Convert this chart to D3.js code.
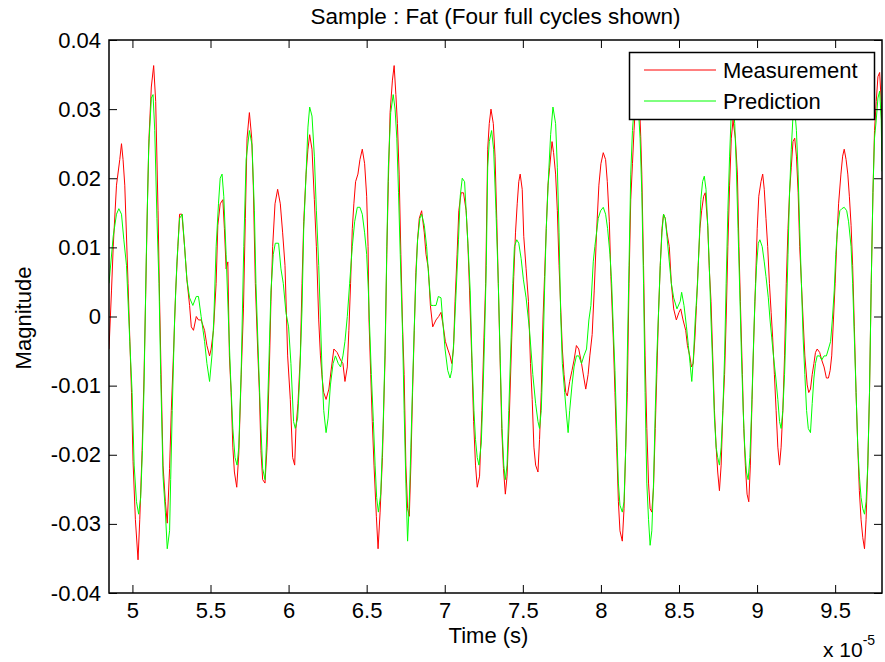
<!DOCTYPE html>
<html>
<head>
<meta charset="utf-8">
<script src="https://cdn.jsdelivr.net/npm/d3@7"></script>
<style>
  body { margin: 0; background: #fff; }
  text { font-family: "Liberation Sans", Arial, sans-serif; fill: #000; }
</style>
</head>
<body>
<script>
// time in units of 1e-5 s, magnitude
const measurement = [
  [4.850,-0.0047],[4.866,0.0037],[4.877,0.0101],[4.898,0.0190],[4.919,0.0227],[4.930,0.0250],[4.940,0.0227],[4.951,0.0190],[4.972,0.0048],[4.983,-0.0031],[4.994,-0.0110],[5.004,-0.0210],[5.019,-0.0294],[5.036,-0.0352],[5.047,-0.0294],[5.062,-0.0194],[5.074,-0.0089],[5.085,0.0032],[5.096,0.0163],[5.106,0.0258],[5.121,0.0332],[5.136,0.0363],[5.149,0.0311],[5.164,0.0153],[5.174,0.0022],[5.185,-0.0099],[5.196,-0.0215],[5.211,-0.0268],[5.223,-0.0299],[5.238,-0.0220],[5.249,-0.0136],[5.264,-0.0047],[5.277,0.0037],[5.291,0.0101],[5.302,0.0148],[5.317,0.0148],[5.334,0.0101],[5.349,0.0053],[5.366,0.0016],[5.377,-0.0015],[5.391,-0.0020],[5.409,0.0000],[5.423,-0.0005],[5.440,-0.0005],[5.462,-0.0020],[5.477,-0.0042],[5.494,-0.0057],[5.504,-0.0047],[5.519,-0.0020],[5.536,0.0048],[5.547,0.0132],[5.562,0.0163],[5.579,0.0169],[5.589,0.0127],[5.600,0.0069],[5.611,0.0079],[5.621,-0.0057],[5.632,-0.0110],[5.643,-0.0189],[5.653,-0.0225],[5.668,-0.0247],[5.681,-0.0199],[5.696,-0.0089],[5.711,0.0011],[5.723,0.0142],[5.734,0.0258],[5.749,0.0295],[5.764,0.0258],[5.774,0.0190],[5.787,0.0048],[5.802,-0.0047],[5.813,-0.0110],[5.823,-0.0194],[5.834,-0.0236],[5.849,-0.0241],[5.862,-0.0189],[5.877,-0.0073],[5.887,0.0022],[5.898,0.0101],[5.913,0.0163],[5.930,0.0184],[5.947,0.0163],[5.962,0.0121],[5.977,0.0074],[5.994,-0.0057],[6.011,-0.0120],[6.026,-0.0204],[6.039,-0.0215],[6.047,-0.0162],[6.060,-0.0126],[6.075,-0.0057],[6.086,0.0048],[6.097,0.0137],[6.112,0.0206],[6.124,0.0242],[6.135,0.0263],[6.150,0.0242],[6.165,0.0169],[6.178,0.0101],[6.193,-0.0005],[6.204,-0.0057],[6.215,-0.0089],[6.225,-0.0110],[6.240,-0.0120],[6.258,-0.0105],[6.275,-0.0073],[6.290,-0.0047],[6.311,-0.0052],[6.333,-0.0063],[6.348,-0.0068],[6.361,-0.0094],[6.376,-0.0073],[6.386,-0.0020],[6.397,0.0048],[6.408,0.0127],[6.418,0.0163],[6.429,0.0195],[6.444,0.0206],[6.457,0.0227],[6.472,0.0242],[6.487,0.0221],[6.500,0.0174],[6.509,0.0101],[6.515,-0.0005],[6.526,-0.0084],[6.536,-0.0152],[6.547,-0.0215],[6.562,-0.0289],[6.573,-0.0336],[6.586,-0.0283],[6.601,-0.0204],[6.618,-0.0057],[6.629,0.0090],[6.639,0.0195],[6.650,0.0295],[6.665,0.0342],[6.676,0.0363],[6.687,0.0321],[6.697,0.0279],[6.708,0.0206],[6.719,0.0090],[6.730,-0.0015],[6.740,-0.0084],[6.751,-0.0215],[6.762,-0.0278],[6.773,-0.0289],[6.783,-0.0215],[6.794,-0.0110],[6.805,-0.0020],[6.815,0.0064],[6.826,0.0111],[6.837,0.0142],[6.852,0.0153],[6.869,0.0121],[6.880,0.0090],[6.895,0.0069],[6.908,0.0016],[6.923,-0.0015],[6.944,-0.0005],[6.961,0.0000],[6.976,0.0006],[6.991,-0.0015],[7.004,-0.0036],[7.019,-0.0047],[7.034,-0.0057],[7.045,-0.0068],[7.056,-0.0047],[7.066,0.0022],[7.079,0.0090],[7.090,0.0153],[7.105,0.0179],[7.120,0.0179],[7.137,0.0153],[7.148,0.0106],[7.159,0.0037],[7.174,-0.0068],[7.185,-0.0152],[7.197,-0.0215],[7.208,-0.0247],[7.223,-0.0231],[7.238,-0.0136],[7.251,-0.0031],[7.262,0.0048],[7.275,0.0242],[7.285,0.0279],[7.296,0.0300],[7.311,0.0279],[7.322,0.0232],[7.333,0.0142],[7.343,0.0048],[7.354,-0.0057],[7.365,-0.0162],[7.376,-0.0220],[7.388,-0.0257],[7.399,-0.0231],[7.414,-0.0141],[7.429,-0.0031],[7.442,0.0058],[7.453,0.0121],[7.464,0.0163],[7.474,0.0195],[7.483,0.0206],[7.496,0.0184],[7.506,0.0116],[7.521,0.0069],[7.536,0.0022],[7.549,-0.0068],[7.560,-0.0120],[7.571,-0.0189],[7.582,-0.0215],[7.597,-0.0225],[7.607,-0.0178],[7.618,-0.0110],[7.629,-0.0005],[7.639,0.0058],[7.650,0.0127],[7.661,0.0190],[7.672,0.0216],[7.687,0.0253],[7.697,0.0237],[7.710,0.0206],[7.721,0.0153],[7.732,0.0074],[7.742,0.0016],[7.753,-0.0047],[7.764,-0.0084],[7.775,-0.0110],[7.785,-0.0115],[7.800,-0.0094],[7.815,-0.0078],[7.828,-0.0063],[7.843,-0.0042],[7.858,-0.0047],[7.876,-0.0068],[7.891,-0.0089],[7.903,-0.0105],[7.918,-0.0084],[7.929,-0.0057],[7.944,-0.0026],[7.957,0.0037],[7.972,0.0121],[7.987,0.0190],[8.000,0.0221],[8.015,0.0237],[8.030,0.0227],[8.041,0.0195],[8.054,0.0137],[8.064,0.0058],[8.079,-0.0031],[8.090,-0.0110],[8.101,-0.0189],[8.112,-0.0268],[8.122,-0.0310],[8.137,-0.0325],[8.148,-0.0278],[8.159,-0.0189],[8.169,-0.0110],[8.180,0.0048],[8.191,0.0169],[8.202,0.0221],[8.212,0.0269],[8.223,0.0311],[8.234,0.0335],[8.245,0.0320],[8.255,0.0260],[8.262,0.0206],[8.273,0.0074],[8.283,-0.0057],[8.294,-0.0162],[8.305,-0.0241],[8.315,-0.0278],[8.326,-0.0283],[8.337,-0.0247],[8.348,-0.0162],[8.358,-0.0084],[8.369,0.0006],[8.380,0.0074],[8.391,0.0127],[8.401,0.0148],[8.412,0.0142],[8.423,0.0121],[8.438,0.0101],[8.451,0.0048],[8.466,0.0011],[8.483,-0.0005],[8.500,0.0006],[8.511,0.0011],[8.526,-0.0005],[8.543,-0.0020],[8.554,-0.0042],[8.569,-0.0057],[8.580,-0.0073],[8.591,-0.0068],[8.602,-0.0031],[8.612,0.0016],[8.623,0.0074],[8.634,0.0127],[8.645,0.0153],[8.658,0.0174],[8.668,0.0179],[8.684,0.0132],[8.694,0.0069],[8.705,0.0022],[8.716,-0.0057],[8.727,-0.0136],[8.738,-0.0189],[8.748,-0.0225],[8.759,-0.0252],[8.770,-0.0215],[8.781,-0.0136],[8.792,-0.0084],[8.802,-0.0005],[8.813,0.0101],[8.824,0.0190],[8.835,0.0258],[8.846,0.0284],[8.861,0.0258],[8.874,0.0206],[8.884,0.0101],[8.893,0.0022],[8.906,-0.0084],[8.915,-0.0162],[8.925,-0.0215],[8.936,-0.0257],[8.947,-0.0268],[8.957,-0.0215],[8.968,-0.0120],[8.979,-0.0031],[8.990,0.0048],[9.001,0.0127],[9.011,0.0174],[9.025,0.0195],[9.036,0.0206],[9.046,0.0184],[9.057,0.0142],[9.068,0.0101],[9.079,0.0048],[9.090,0.0006],[9.100,-0.0031],[9.111,-0.0084],[9.122,-0.0136],[9.133,-0.0189],[9.144,-0.0215],[9.154,-0.0189],[9.165,-0.0136],[9.176,-0.0057],[9.187,0.0048],[9.198,0.0127],[9.208,0.0179],[9.219,0.0216],[9.230,0.0253],[9.241,0.0258],[9.252,0.0232],[9.263,0.0179],[9.273,0.0101],[9.284,0.0048],[9.295,-0.0005],[9.306,-0.0057],[9.321,-0.0099],[9.331,-0.0110],[9.342,-0.0105],[9.353,-0.0084],[9.364,-0.0068],[9.374,-0.0052],[9.385,-0.0047],[9.401,-0.0052],[9.414,-0.0063],[9.429,-0.0073],[9.444,-0.0089],[9.457,-0.0089],[9.468,-0.0078],[9.478,-0.0057],[9.489,-0.0005],[9.500,0.0048],[9.511,0.0111],[9.522,0.0163],[9.537,0.0206],[9.548,0.0232],[9.558,0.0242],[9.570,0.0227],[9.581,0.0206],[9.591,0.0174],[9.602,0.0132],[9.612,0.0074],[9.623,-0.0015],[9.634,-0.0110],[9.645,-0.0189],[9.655,-0.0252],[9.666,-0.0294],[9.677,-0.0320],[9.688,-0.0336],[9.698,-0.0294],[9.709,-0.0215],[9.720,-0.0110],[9.731,0.0048],[9.742,0.0179],[9.752,0.0269],[9.763,0.0311],[9.774,0.0347],[9.785,0.0353],[9.795,0.0311],[9.800,0.0240]
];

const prediction = [
  [4.850,0.0048],[4.877,0.0116],[4.898,0.0148],[4.913,0.0156],[4.930,0.0148],[4.945,0.0111],[4.962,0.0074],[4.983,-0.0036],[4.998,-0.0110],[5.011,-0.0215],[5.026,-0.0268],[5.040,-0.0286],[5.053,-0.0262],[5.064,-0.0194],[5.074,-0.0105],[5.089,0.0090],[5.104,0.0242],[5.121,0.0316],[5.132,0.0321],[5.143,0.0269],[5.157,0.0142],[5.170,0.0048],[5.181,-0.0084],[5.196,-0.0231],[5.211,-0.0283],[5.223,-0.0336],[5.238,-0.0310],[5.245,-0.0236],[5.255,-0.0136],[5.270,-0.0005],[5.285,0.0079],[5.302,0.0142],[5.319,0.0148],[5.334,0.0101],[5.349,0.0053],[5.366,0.0027],[5.387,0.0016],[5.409,0.0029],[5.423,0.0029],[5.440,0.0000],[5.462,-0.0036],[5.477,-0.0068],[5.494,-0.0094],[5.509,-0.0057],[5.521,-0.0005],[5.536,0.0101],[5.551,0.0163],[5.562,0.0200],[5.574,0.0206],[5.585,0.0174],[5.600,0.0090],[5.615,-0.0005],[5.628,-0.0084],[5.643,-0.0162],[5.657,-0.0204],[5.670,-0.0215],[5.681,-0.0189],[5.696,-0.0084],[5.713,0.0101],[5.728,0.0227],[5.749,0.0269],[5.766,0.0248],[5.781,0.0153],[5.791,0.0048],[5.809,-0.0073],[5.823,-0.0162],[5.834,-0.0220],[5.849,-0.0236],[5.860,-0.0173],[5.877,-0.0042],[5.887,0.0037],[5.902,0.0090],[5.915,0.0106],[5.936,0.0106],[5.951,0.0069],[5.966,0.0048],[5.983,0.0006],[6.000,-0.0015],[6.015,-0.0068],[6.032,-0.0152],[6.043,-0.0162],[6.058,-0.0147],[6.071,-0.0089],[6.086,0.0011],[6.097,0.0127],[6.112,0.0206],[6.124,0.0274],[6.135,0.0303],[6.150,0.0290],[6.165,0.0232],[6.178,0.0153],[6.193,0.0074],[6.204,-0.0005],[6.215,-0.0084],[6.225,-0.0136],[6.240,-0.0168],[6.253,-0.0147],[6.268,-0.0099],[6.285,-0.0068],[6.300,-0.0057],[6.318,-0.0068],[6.333,-0.0073],[6.348,-0.0057],[6.361,-0.0036],[6.376,0.0000],[6.391,0.0048],[6.408,0.0101],[6.423,0.0137],[6.440,0.0158],[6.457,0.0158],[6.472,0.0148],[6.487,0.0121],[6.500,0.0090],[6.511,0.0037],[6.519,-0.0015],[6.530,-0.0084],[6.543,-0.0152],[6.554,-0.0215],[6.564,-0.0262],[6.575,-0.0283],[6.590,-0.0257],[6.605,-0.0162],[6.618,-0.0047],[6.629,0.0101],[6.639,0.0216],[6.654,0.0295],[6.670,0.0321],[6.682,0.0300],[6.693,0.0258],[6.704,0.0179],[6.715,0.0090],[6.730,-0.0026],[6.740,-0.0136],[6.751,-0.0241],[6.762,-0.0325],[6.773,-0.0268],[6.783,-0.0189],[6.794,-0.0099],[6.805,-0.0015],[6.815,0.0053],[6.826,0.0111],[6.841,0.0142],[6.852,0.0148],[6.869,0.0132],[6.884,0.0101],[6.897,0.0058],[6.912,0.0016],[6.927,0.0016],[6.944,0.0016],[6.959,0.0029],[6.976,0.0027],[6.987,-0.0005],[7.002,-0.0047],[7.019,-0.0078],[7.034,-0.0089],[7.045,-0.0078],[7.058,-0.0036],[7.073,0.0037],[7.088,0.0111],[7.099,0.0174],[7.112,0.0200],[7.127,0.0195],[7.137,0.0153],[7.152,0.0090],[7.163,0.0037],[7.174,-0.0057],[7.187,-0.0136],[7.197,-0.0178],[7.208,-0.0204],[7.219,-0.0215],[7.234,-0.0183],[7.245,-0.0110],[7.255,-0.0031],[7.266,0.0074],[7.275,0.0216],[7.285,0.0253],[7.300,0.0269],[7.313,0.0242],[7.328,0.0153],[7.343,0.0048],[7.356,-0.0068],[7.367,-0.0162],[7.378,-0.0215],[7.388,-0.0236],[7.399,-0.0215],[7.410,-0.0136],[7.425,-0.0031],[7.436,0.0048],[7.446,0.0101],[7.461,0.0111],[7.474,0.0106],[7.489,0.0084],[7.504,0.0053],[7.521,0.0027],[7.543,-0.0020],[7.564,-0.0084],[7.582,-0.0126],[7.597,-0.0152],[7.607,-0.0162],[7.618,-0.0136],[7.629,-0.0057],[7.639,0.0037],[7.650,0.0127],[7.665,0.0206],[7.678,0.0263],[7.693,0.0303],[7.710,0.0279],[7.721,0.0216],[7.732,0.0121],[7.742,0.0006],[7.753,-0.0068],[7.768,-0.0110],[7.779,-0.0141],[7.790,-0.0168],[7.800,-0.0136],[7.815,-0.0099],[7.828,-0.0073],[7.843,-0.0057],[7.858,-0.0057],[7.876,-0.0068],[7.891,-0.0057],[7.908,-0.0047],[7.923,-0.0005],[7.936,0.0016],[7.951,0.0079],[7.961,0.0101],[7.972,0.0121],[7.983,0.0142],[7.998,0.0153],[8.015,0.0158],[8.030,0.0148],[8.043,0.0127],[8.058,0.0090],[8.069,0.0048],[8.079,-0.0015],[8.090,-0.0078],[8.101,-0.0162],[8.112,-0.0241],[8.122,-0.0273],[8.137,-0.0283],[8.148,-0.0268],[8.159,-0.0189],[8.169,-0.0057],[8.180,0.0074],[8.191,0.0206],[8.202,0.0269],[8.212,0.0300],[8.223,0.0316],[8.240,0.0300],[8.251,0.0258],[8.262,0.0179],[8.273,0.0048],[8.283,-0.0110],[8.294,-0.0241],[8.305,-0.0294],[8.315,-0.0331],[8.326,-0.0310],[8.337,-0.0241],[8.348,-0.0136],[8.358,-0.0057],[8.369,0.0006],[8.380,0.0074],[8.391,0.0121],[8.401,0.0148],[8.412,0.0142],[8.423,0.0116],[8.438,0.0079],[8.451,0.0048],[8.466,0.0027],[8.487,0.0011],[8.508,0.0022],[8.517,0.0035],[8.532,0.0016],[8.548,-0.0015],[8.560,-0.0042],[8.571,-0.0068],[8.582,-0.0094],[8.593,-0.0057],[8.604,-0.0005],[8.619,0.0048],[8.630,0.0111],[8.640,0.0169],[8.651,0.0195],[8.662,0.0203],[8.673,0.0184],[8.684,0.0132],[8.694,0.0074],[8.705,-0.0005],[8.716,-0.0073],[8.727,-0.0147],[8.738,-0.0189],[8.748,-0.0204],[8.759,-0.0215],[8.770,-0.0189],[8.781,-0.0136],[8.792,-0.0057],[8.802,0.0048],[8.813,0.0153],[8.824,0.0232],[8.835,0.0295],[8.846,0.0310],[8.857,0.0279],[8.867,0.0216],[8.878,0.0127],[8.889,0.0037],[8.900,-0.0057],[8.911,-0.0136],[8.921,-0.0189],[8.932,-0.0225],[8.943,-0.0236],[8.954,-0.0204],[8.965,-0.0136],[8.975,-0.0057],[8.986,0.0022],[8.997,0.0074],[9.008,0.0106],[9.018,0.0111],[9.033,0.0101],[9.046,0.0079],[9.057,0.0058],[9.072,0.0027],[9.083,-0.0005],[9.094,-0.0031],[9.105,-0.0057],[9.120,-0.0089],[9.133,-0.0120],[9.144,-0.0152],[9.154,-0.0162],[9.165,-0.0136],[9.176,-0.0084],[9.187,-0.0005],[9.198,0.0090],[9.208,0.0179],[9.219,0.0242],[9.230,0.0290],[9.241,0.0300],[9.252,0.0269],[9.263,0.0206],[9.273,0.0127],[9.284,0.0048],[9.295,-0.0031],[9.306,-0.0084],[9.317,-0.0136],[9.328,-0.0162],[9.342,-0.0168],[9.353,-0.0126],[9.364,-0.0089],[9.374,-0.0068],[9.385,-0.0057],[9.401,-0.0057],[9.414,-0.0063],[9.429,-0.0057],[9.444,-0.0057],[9.457,-0.0047],[9.471,-0.0036],[9.482,-0.0005],[9.494,0.0037],[9.504,0.0090],[9.515,0.0127],[9.530,0.0153],[9.543,0.0156],[9.558,0.0158],[9.574,0.0153],[9.586,0.0137],[9.602,0.0101],[9.612,0.0048],[9.623,-0.0031],[9.634,-0.0110],[9.645,-0.0189],[9.655,-0.0231],[9.666,-0.0262],[9.677,-0.0278],[9.688,-0.0286],[9.698,-0.0268],[9.709,-0.0215],[9.720,-0.0110],[9.731,0.0048],[9.742,0.0179],[9.752,0.0258],[9.763,0.0284],[9.774,0.0316],[9.785,0.0326],[9.795,0.0284],[9.800,0.0210]
];

const xTicks = [5, 5.5, 6, 6.5, 7, 7.5, 8, 8.5, 9, 9.5];
const yTicks = [-0.04, -0.03, -0.02, -0.01, 0, 0.01, 0.02, 0.03, 0.04];
const seriesNames = ["Measurement", "Prediction"];
const seriesColors = ["#ff0000", "#00ff00"];

const width = 885;
const height = 662;
const plotLeft = 109, plotRight = 882, plotTop = 40, plotBottom = 593;
const tickLen = 8;

const svg = d3.select("body").append("svg")
  .attr("width", width)
  .attr("height", height);

var x = d3.scaleLinear().domain([4.85, 9.80]).range([plotLeft, plotRight]);
var y = d3.scaleLinear().domain([-0.04, 0.04]).range([plotBottom, plotTop]);

svg.append("clipPath").attr("id", "plotclip")
  .append("rect")
  .attr("x", plotLeft).attr("y", plotTop)
  .attr("width", plotRight - plotLeft).attr("height", plotBottom - plotTop);

var line = d3.line()
  .x(function(d) { return x(d[0]); })
  .y(function(d) { return y(d[1]); });

var lines = svg.append("g").attr("clip-path", "url(#plotclip)");
[measurement, prediction].forEach(function(s, i) {
  lines.append("path")
    .datum(s)
    .attr("fill", "none")
    .attr("stroke", seriesColors[i])
    .attr("stroke-width", 1)
    .attr("stroke-linejoin", "miter")
    .attr("d", line);
});

// axes: ticks inside on all four sides, like matlab
var fmtY = function(d) { return Math.abs(d) < 1e-9 ? "0" : d.toFixed(2); };

var axes = svg.append("g");
axes.append("g")
  .attr("transform", "translate(0," + plotBottom + ")")
  .call(d3.axisBottom(x).tickValues(xTicks).tickSizeInner(-tickLen).tickSizeOuter(0).tickPadding(9).tickFormat(d3.format("")));
axes.append("g")
  .attr("transform", "translate(0," + plotTop + ")")
  .call(d3.axisTop(x).tickValues(xTicks).tickSizeInner(-tickLen).tickSizeOuter(0).tickFormat(""));
axes.append("g")
  .attr("transform", "translate(" + plotLeft + ",0)")
  .call(d3.axisLeft(y).tickValues(yTicks).tickSizeInner(-tickLen).tickSizeOuter(0).tickPadding(8).tickFormat(fmtY));
axes.append("g")
  .attr("transform", "translate(" + plotRight + ",0)")
  .call(d3.axisRight(y).tickValues(yTicks).tickSizeInner(-tickLen).tickSizeOuter(0).tickFormat(""));

axes.selectAll(".domain").remove();
axes.selectAll(".tick line").attr("stroke", "#000").attr("stroke-width", 1);
axes.selectAll(".tick text")
  .attr("font-size", 22)
  .attr("font-family", "Liberation Sans, Arial, sans-serif")
  .attr("fill", "#000");

svg.append("rect")
  .attr("x", plotLeft).attr("y", plotTop)
  .attr("width", plotRight - plotLeft).attr("height", plotBottom - plotTop)
  .attr("fill", "none")
  .attr("stroke", "#000")
  .attr("stroke-width", 1.5);

// titles
svg.append("text")
  .attr("x", (plotLeft + plotRight) / 2).attr("y", 24)
  .attr("text-anchor", "middle")
  .attr("font-size", 22.5)
  .text("Sample : Fat (Four full cycles shown)");

svg.append("text")
  .attr("x", (plotLeft + plotRight) / 2 - 7).attr("y", 643)
  .attr("text-anchor", "middle")
  .attr("font-size", 22)
  .text("Time (s)");

svg.append("text")
  .attr("transform", "translate(31,318) rotate(-90)")
  .attr("text-anchor", "middle")
  .attr("font-size", 22)
  .text("Magnitude");

var expo = svg.append("text")
  .attr("x", 823).attr("y", 657)
  .attr("font-size", 21);
expo.append("tspan").text("x 10");
expo.append("tspan").attr("dy", -12).attr("font-size", 14).text("-5");

// legend
var legend = svg.append("g");
legend.append("rect")
  .attr("x", 629.5).attr("y", 52.5)
  .attr("width", 245).attr("height", 67)
  .attr("fill", "#fff")
  .attr("stroke", "#000")
  .attr("stroke-width", 1.5);
seriesNames.forEach(function(name, i) {
  var ly = 70 + i * 31;
  legend.append("line")
    .attr("x1", 644).attr("x2", 716)
    .attr("y1", ly).attr("y2", ly)
    .attr("stroke", seriesColors[i])
    .attr("stroke-width", 1);
  legend.append("text")
    .attr("x", 723).attr("y", ly + 8)
    .attr("font-size", 22)
    .text(name);
});
</script>
</body>
</html>
